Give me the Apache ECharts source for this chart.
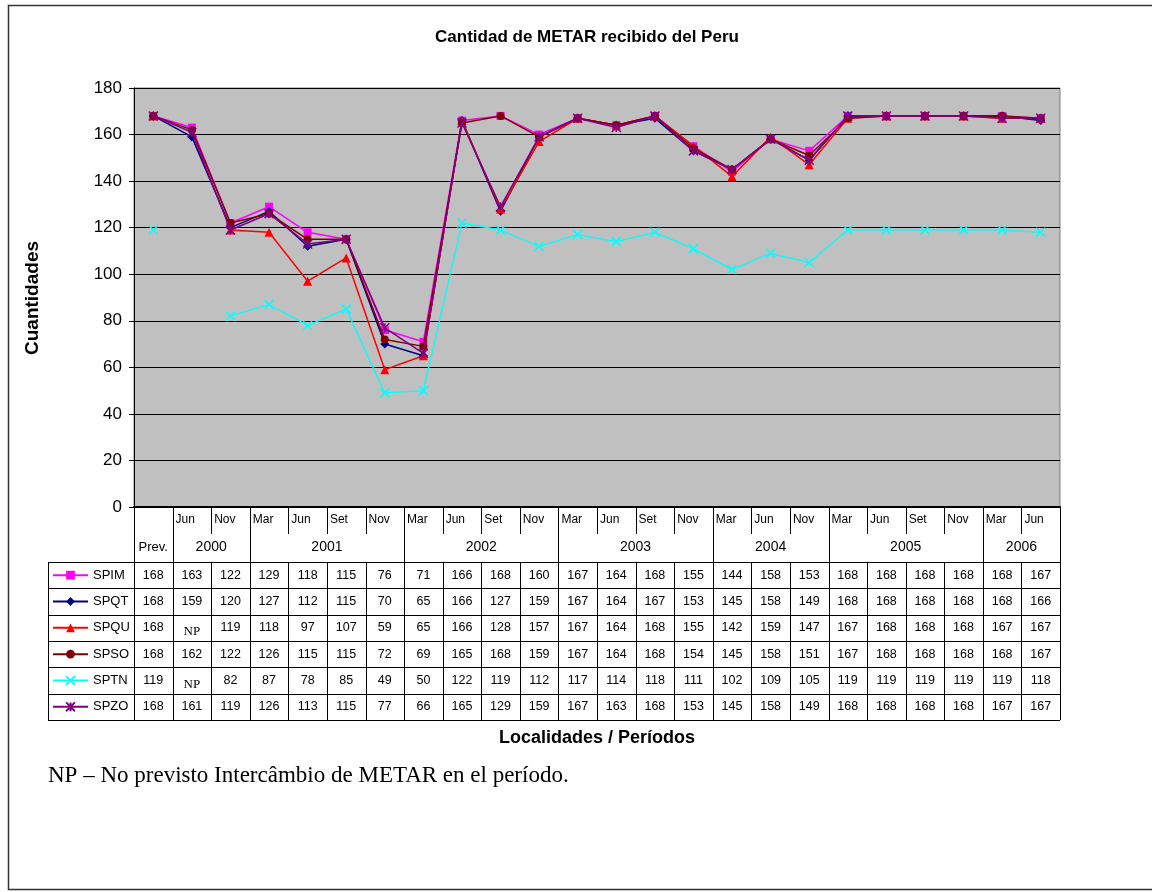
<!DOCTYPE html>
<html>
<head>
<meta charset="utf-8">
<script src="https://cdn.jsdelivr.net/npm/echarts@6/dist/echarts.min.js"></script>
<style>
html,body{margin:0;padding:0;background:#fff;}
#chart{width:1152px;height:892px;}
</style>
</head>
<body>
<div id="chart"></div>
<script>
// ---- data ----
const months = ['Prev.','Jun','Nov','Mar','Jun','Set','Nov','Mar','Jun','Set','Nov','Mar','Jun','Set','Nov','Mar','Jun','Nov','Mar','Jun','Set','Nov','Mar','Jun'];
const yearOf = ['','2000','2000','2001','2001','2001','2001','2002','2002','2002','2002','2003','2003','2003','2003','2004','2004','2004','2005','2005','2005','2005','2006','2006'];
const seriesNames = ['SPIM','SPQT','SPQU','SPSO','SPTN','SPZO'];
const SPIM = [168,163,122,129,118,115,76,71,166,168,160,167,164,168,155,144,158,153,168,168,168,168,168,167];
const SPQT = [168,159,120,127,112,115,70,65,166,127,159,167,164,167,153,145,158,149,168,168,168,168,168,166];
const SPQU = [168,null,119,118,97,107,59,65,166,128,157,167,164,168,155,142,159,147,167,168,168,168,167,167];
const SPSO = [168,162,122,126,115,115,72,69,165,168,159,167,164,168,154,145,158,151,167,168,168,168,168,167];
const SPTN = [119,null,82,87,78,85,49,50,122,119,112,117,114,118,111,102,109,105,119,119,119,119,119,118];
const SPZO = [168,161,119,126,113,115,77,66,165,129,159,167,163,168,153,145,158,149,168,168,168,168,167,167];
const yTicks = {min:0, max:180, interval:20};
const missingLabel = 'NP';

const seriesData = [SPIM,SPQT,SPQU,SPSO,SPTN,SPZO];
const colors = ['#FF00FF','#000080','#FF0000','#800000','#00FFFF','#800080'];
const symbols = ['rect','diamond','triangle','circle','path://M0,0L10,10M10,0L0,10','path://M5,0L5,10M0,0L10,10M10,0L0,10'];
const symSizes = [8,9,9,8,9,9];

const SANS = '"Liberation Sans", Arial, sans-serif';
const SERIF = '"Liberation Serif", "Times New Roman", serif';

const chart = echarts.init(document.getElementById('chart'), null, {renderer:'canvas'});

const GRID = {left:134, right:92, top:88, bottom:385};
const TABLE_TOP = 892 - GRID.bottom; // 507
const MONTH_ROW_END = 534;
const HEADER_END = 562;
const ROW_H = 26.33;
const LEGEND_LEFT = 48;

const series = seriesNames.map((name, i) => {
  const isStroke = i >= 4;
  return {
    name: name,
    type: 'line',
    data: seriesData[i].map(v => v === null ? '-' : v),
    symbol: symbols[i],
    symbolSize: symSizes[i],
    showAllSymbol: true,
    connectNulls: false,
    lineStyle: {color: colors[i], width: i === 4 ? 1.3 : 1.5},
    itemStyle: isStroke
      ? {color: colors[i], borderColor: colors[i], borderWidth: 1.5}
      : {color: colors[i], borderWidth: 0},
    emphasis: {disabled: true},
    animation: false,
    z: 2 + i
  };
});

chart.setOption({
  animation: false,
  backgroundColor: '#fff',
  grid: {left: GRID.left, right: GRID.right, top: GRID.top, bottom: GRID.bottom,
         show: true, backgroundColor: '#C0C0C0', borderColor: '#808080', borderWidth: 1},
  xAxis: {
    type: 'category', data: months, boundaryGap: true,
    axisLine: {show: true, lineStyle: {color: '#000', width: 2}},
    axisTick: {show: false}, axisLabel: {show: false}, splitLine: {show: false}
  },
  yAxis: {
    type: 'value', min: yTicks.min, max: yTicks.max, interval: yTicks.interval,
    axisLine: {show: true, lineStyle: {color: '#000', width: 1}},
    axisTick: {show: true, length: 5, lineStyle: {color: '#000'}},
    axisLabel: {color: '#000', fontSize: 17, fontFamily: SANS, margin: 12},
    splitLine: {show: true, lineStyle: {color: '#000', width: 1}}
  },
  legend: {
    orient: 'vertical', left: 52, top: HEADER_END + ROW_H/2 - 6.5, padding: 0,
    itemWidth: 35, itemHeight: 11, itemGap: ROW_H - 13,
    selectedMode: false,
    textStyle: {color: '#000', fontSize: 13, fontFamily: SANS, lineHeight: 13},
    data: seriesNames
  },
  series: series
});

// ---- table & texts (positions from the category axis scale) ----
const n = months.length;
const cx = months.map((_, i) => chart.convertToPixel({xAxisIndex: 0}, i));
const bw = cx[1] - cx[0];
const edge = b => cx[0] - bw/2 + b*bw;
const rightX = edge(n);
const tableBottom = HEADER_END + ROW_H * seriesNames.length;

const g = [];
const line = (x1,y1,x2,y2,w,c) => g.push({type:'line', silent:true, z:50,
  shape:{x1:x1,y1:y1,x2:x2,y2:y2}, style:{stroke:c||'#000', lineWidth:w||1}});
const text = (x,y,t,opt) => g.push({type:'text', silent:true, z:60, x:x, y:y,
  style:Object.assign({text:t, fill:'#000', fontSize:12, fontFamily:SANS, textAlign:'center', textVerticalAlign:'middle'}, opt||{})});

// year boundaries
const isYearStart = b => b === 0 || b === n || yearOf[b] !== yearOf[b-1];
for (let b = 0; b <= n; b++) {
  const x = Math.round(edge(b)) + 0.5;
  if (isYearStart(b)) {
    line(x, TABLE_TOP, x, tableBottom);
  } else {
    line(x, TABLE_TOP, x, MONTH_ROW_END);
    line(x, HEADER_END, x, tableBottom);
  }
}
// horizontal rows
for (let r = 0; r <= seriesNames.length; r++) {
  const y = Math.round(HEADER_END + r*ROW_H) + 0.5;
  line(LEGEND_LEFT, y, rightX, y);
}
line(LEGEND_LEFT + 0.5, HEADER_END, LEGEND_LEFT + 0.5, tableBottom);

// month labels
for (let i = 1; i < n; i++) {
  text(edge(i) + 3, 520, months[i], {textAlign:'left', fontSize:12});
}
text(cx[0], 547, months[0], {fontSize:13});
// year labels
let s = 1;
for (let i = 2; i <= n; i++) {
  if (i === n || yearOf[i] !== yearOf[s]) {
    text((edge(s) + edge(i))/2, 547, yearOf[s], {fontSize:14});
    s = i;
  }
}
// data cells
seriesData.forEach((arr, r) => {
  const yc = HEADER_END + (r + 0.5)*ROW_H;
  arr.forEach((v, i) => {
    if (v === null) text(cx[i], yc + 4, missingLabel, {fontFamily:SERIF, fontSize:13});
    else text(cx[i], yc, String(v), {fontSize:12.5});
  });
});

// titles
text(587, 37, 'Cantidad de METAR recibido del Peru', {fontSize:17, fontWeight:'bold'});
g.push({type:'text', silent:true, z:60, x:33, y:298, rotation:Math.PI/2,
  style:{text:'Cuantidades', fill:'#000', fontSize:19, fontWeight:'bold', fontFamily:SANS, textAlign:'center', textVerticalAlign:'middle'}});
text(597, 738, 'Localidades / Períodos', {fontSize:18, fontWeight:'bold'});
text(48, 776, 'NP – No previsto Intercâmbio de METAR en el período.', {fontSize:23, fontFamily:SERIF, textAlign:'left'});

// outer frame
g.push({type:'rect', silent:true, z:0, shape:{x:8.5, y:5.5, width:1160, height:884}, style:{fill:null, stroke:'#333', lineWidth:1.5}});

chart.setOption({graphic: g});
</script>
</body>
</html>
